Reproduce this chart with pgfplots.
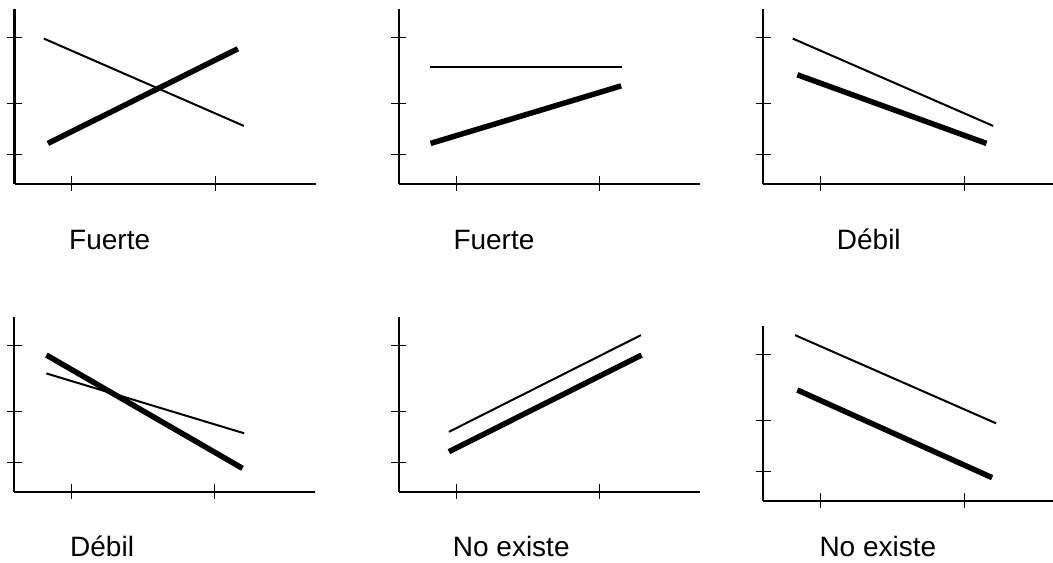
\documentclass[border=0pt]{standalone}
\usepackage{pgfplots}
\pgfplotsset{compat=1.18}
\usepackage{fontspec}
\setmainfont{Liberation Sans}

% Common look of the six small interaction panels
\pgfplotsset{
  panel/.style={
    scale only axis, anchor=south west,
    width=301bp, height=175.2bp,
    xmin=0.6, xmax=2.7, ymin=0, ymax=6,
    axis lines=left, axis line style={-, line width=2bp},
    xtick={1,2}, ytick={1,2.75,5},
    xticklabels={}, yticklabels={},
    tick align=center, major tick length=15bp,
    tick style={line width=1bp, black},
    clip=false,
  },
  narrow/.style={width=290.3bp, xmax=2.62},
  weak/.style={black, line width=2bp, no markers},
  strong/.style={black, line width=5.5bp, no markers},
}
\newcommand\lbl[1]{{\fontsize{28bp}{34bp}\selectfont #1}}

\begin{document}
\begin{tikzpicture}
\useasboundingbox (0,0) rectangle (1053bp,563bp);

% ---- row 1 ----
\begin{axis}[panel, at={(14.5bp,379bp)}]
  \addplot[weak]   coordinates {(0.805,4.98) (2.200,1.99)};
  \addplot[strong] coordinates {(0.833,1.39) (2.158,4.63)};
\end{axis}
\begin{axis}[panel, at={(398.9bp,379bp)}]
  \addplot[weak]   coordinates {(0.817,4.01) (2.153,4.01)};
  \addplot[strong] coordinates {(0.821,1.39) (2.151,3.36)};
\end{axis}
\begin{axis}[panel, narrow, at={(763.3bp,379bp)}]
  \addplot[weak]   coordinates {(0.805,4.98) (2.199,1.99)};
  \addplot[strong] coordinates {(0.837,3.74) (2.153,1.39)};
\end{axis}

% ---- row 2 ----
\begin{axis}[panel, at={(14.3bp,71.3bp)}]
  \addplot[weak]   coordinates {(0.824,4.05) (2.204,2.00)};
  \addplot[strong] coordinates {(0.824,4.68) (2.192,0.80)};
\end{axis}
\begin{axis}[panel, at={(398.9bp,71.3bp)}]
  \addplot[weak]   coordinates {(0.949,2.05) (2.288,5.36)};
  \addplot[strong] coordinates {(0.949,1.37) (2.293,4.68)};
\end{axis}
\begin{axis}[panel, narrow, at={(763.3bp,62.3bp)}]
  \addplot[weak]   coordinates {(0.821,5.67) (2.220,2.65)};
  \addplot[strong] coordinates {(0.837,3.79) (2.192,0.79)};
\end{axis}

% ---- captions ----
\node[anchor=base west, inner sep=0pt] at (69bp,313.7bp)  {\lbl{Fuerte}};
\node[anchor=base west, inner sep=0pt] at (453.3bp,313.7bp) {\lbl{Fuerte}};
\node[anchor=base west, inner sep=0pt] at (836.7bp,313.7bp) {\lbl{Débil}};
\node[anchor=base west, inner sep=0pt] at (70bp,7bp)    {\lbl{Débil}};
\node[anchor=base west, inner sep=0pt] at (452.7bp,7bp) {\lbl{No existe}};
\node[anchor=base west, inner sep=0pt] at (819.3bp,7bp) {\lbl{No existe}};
\end{tikzpicture}
\end{document}
